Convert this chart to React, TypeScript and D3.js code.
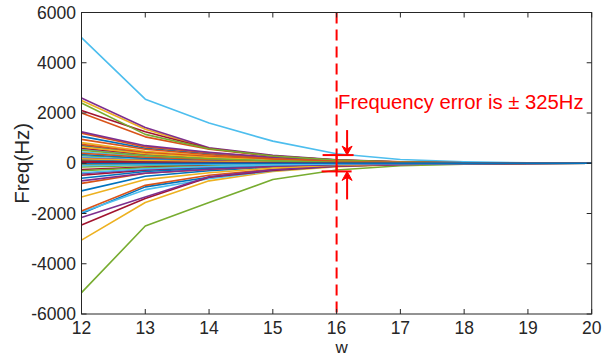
import React from "react";
import * as d3 from "d3";

const W = [12, 13, 14, 15, 16, 17, 18, 19, 20];
const X_TICKS = [12, 13, 14, 15, 16, 17, 18, 19, 20];
const Y_TICKS = [-6000, -4000, -2000, 0, 2000, 4000, 6000];
const COLOR_ORDER = ["#0072BD", "#D95319", "#EDB120", "#7E2F8E", "#77AC30", "#4DBEEE", "#A2142F"];
const ERROR_HZ = 325;
const MARK_W = 16;
const LABEL = "Frequency error is \u00B1 325Hz";

// Frequency estimates per line, at w = 12..20
const LINES: number[][] = [
  [1070, 600, 380, 200, 90, 40, 15, 5, 0],
  [2000, 1050, 560, 280, 120, 50, 20, 5, 0],
  [2500, 1350, 600, 300, 130, 55, 20, 5, 0],
  [2600, 1420, 620, 320, 140, 60, 20, 5, 0],
  [-5150, -2500, -1560, -650, -270, -100, -40, -10, 0],
  [5000, 2550, 1600, 880, 380, 150, 55, 15, 0],
  [2100, 1250, 590, 290, 125, 50, 20, 5, 0],

  [-2000, -940, -560, -280, -110, -45, -15, -5, 0],
  [1200, 650, 420, 220, 95, 40, 15, 5, 0],
  [-3060, -1560, -700, -330, -140, -55, -20, -5, 0],
  [1250, 700, 440, 230, 100, 40, 15, 5, 0],
  [2400, 1150, 580, 290, 125, 50, 18, 5, 0],
  [-1950, -1050, -620, -300, -120, -50, -18, -5, 0],
  [-2460, -1400, -560, -290, -120, -48, -17, -5, 0],

  [-1100, -515, -300, -150, -60, -25, -10, -3, 0],
  [-1900, -880, -480, -240, -100, -40, -15, -4, 0],
  [820, 480, 300, 160, 70, 30, 10, 3, 0],
  [-2160, -1340, -540, -260, -110, -45, -15, -5, 0],
  [300, 180, 110, 60, 25, 10, 4, 1, 0],
  [250, 150, 90, 50, 20, 8, 3, 1, 0],
  [-480, -280, -170, -90, -40, -15, -6, -2, 0],

  [700, 400, 250, 130, 55, 22, 8, 2, 0],
  [-800, -400, -250, -130, -55, -22, -8, -2, 0],
  [-1340, -650, -380, -190, -80, -30, -12, -3, 0],
  [-420, -250, -150, -80, -35, -14, -5, -1, 0],
  [100, 60, 40, 20, 8, 3, 1, 0, 0],
  [550, 320, 200, 110, 45, 18, 6, 2, 0],
  [600, 360, 220, 115, 50, 20, 7, 2, 0],

  [350, 200, 130, 70, 30, 12, 4, 1, 0],
  [750, 430, 270, 140, 60, 24, 9, 2, 0],
  [650, 380, 230, 120, 52, 21, 8, 2, 0],
  [50, 30, 20, 10, 4, 2, 1, 0, 0],
  [-150, -90, -55, -30, -12, -5, -2, 0, 0],
  [450, 270, 170, 90, 38, 15, 5, 1, 0],
  [-250, -150, -90, -50, -20, -8, -3, -1, 0],

  [150, 90, 55, 30, 12, 5, 2, 0, 0],
  [400, 240, 150, 80, 35, 14, 5, 1, 0],
  [-50, -30, -18, -10, -4, -2, -1, 0, 0],
  [200, 120, 75, 40, 17, 7, 2, 1, 0],
  [-300, -180, -110, -60, -25, -10, -4, -1, 0],
  [-100, -60, -36, -20, -8, -3, -1, 0, 0],
  [30, 20, 10, 5, 2, 1, 0, 0, 0],

  [-600, -330, -200, -100, -45, -18, -6, -2, 0],
  [950, 560, 340, 175, 75, 30, 11, 3, 0],
  [180, 110, 65, 35, 15, 6, 2, 1, 0],
  [-700, -400, -240, -120, -50, -20, -7, -2, 0],
  [520, 300, 180, 95, 40, 16, 6, 1, 0],
  [-380, -220, -130, -70, -30, -12, -4, -1, 0],
  [80, 50, 30, 15, 6, 2, 1, 0, 0],
  [-20, -10, -5, -2, -1, 0, 0, 0, 0],
];

const AX = "#262626";
const RED = "#FF0000";
const FONT = "Liberation Sans, Arial, Helvetica, sans-serif";

export default function App() {
  const left = 81.5, right = 591.7, top = 12.5, bottom = 314;
  const x = d3.scaleLinear().domain([12, 20]).range([left, right]);
  const y = d3.scaleLinear().domain([-6000, 6000]).range([bottom, top]);
  const line = d3.line<number>().x((_, i) => x(W[i])).y((d) => y(d));
  const tk = 5;

  const xm = x(MARK_W);
  const yTop = y(ERROR_HZ);
  const yBot = y(-ERROR_HZ);
  const ax = xm + 10.5;

  return (
    <svg width={607} height={356} style={{ position: "absolute", left: 0, top: 0, background: "#fff" }} fontFamily={FONT}>
      <rect x={0} y={0} width={607} height={356} fill="#fff" />
      <g>
        {LINES.map((s, i) => (
          <path key={i} d={line(s) || ""} fill="none" stroke={COLOR_ORDER[i % 7]} strokeWidth={1.6} strokeLinejoin="round" />
        ))}
      </g>
      {/* red dashed line */}
      <line x1={xm} x2={xm} y1={top} y2={bottom} stroke={RED} strokeWidth={2} strokeDasharray="11,6" />
      {/* error bars */}
      <line x1={xm - 14} x2={xm + 17} y1={yTop} y2={yTop} stroke={RED} strokeWidth={2} />
      <line x1={xm - 15} x2={xm + 15} y1={yBot} y2={yBot} stroke={RED} strokeWidth={2} />
      <line x1={xm} x2={xm} y1={yTop} y2={yBot} stroke={RED} strokeWidth={2} />
      {/* arrows */}
      <line x1={ax} x2={ax} y1={yTop - 25} y2={yTop - 3} stroke={RED} strokeWidth={2} />
      <path d={`M${ax},${yTop} L${ax - 5},${yTop - 9} L${ax},${yTop - 6} L${ax + 5},${yTop - 9} Z`} fill={RED} stroke={RED} strokeWidth={1} strokeLinejoin="miter" />
      <line x1={ax} x2={ax} y1={yBot + 28} y2={yBot + 3} stroke={RED} strokeWidth={2} />
      <path d={`M${ax},${yBot} L${ax - 5},${yBot + 9} L${ax},${yBot + 6} L${ax + 5},${yBot + 9} Z`} fill={RED} stroke={RED} strokeWidth={1} strokeLinejoin="miter" />
      <text x={338} y={109} fontSize={20.3} fill={RED}>{LABEL}</text>

      {/* box */}
      <rect x={left} y={top} width={right - left} height={bottom - top} fill="none" stroke={AX} strokeWidth={1} />
      {X_TICKS.map((t) => (
        <g key={"x" + t}>
          <line x1={x(t)} x2={x(t)} y1={bottom} y2={bottom - tk} stroke={AX} />
          <line x1={x(t)} x2={x(t)} y1={top} y2={top + tk} stroke={AX} />
          <text x={x(t)} y={334} textAnchor="middle" fontSize={17.5} fill={AX}>{t}</text>
        </g>
      ))}
      {Y_TICKS.map((t) => (
        <g key={"y" + t}>
          <line x1={left} x2={left + tk} y1={y(t)} y2={y(t)} stroke={AX} />
          <line x1={right} x2={right - tk} y1={y(t)} y2={y(t)} stroke={AX} />
          <text x={76} y={y(t) + 6} textAnchor="end" fontSize={17.5} fill={AX}>{t}</text>
        </g>
      ))}
      <text x={(left + right) / 2 + 5} y={353} textAnchor="middle" fontSize={17} fill={AX}>w</text>
      <text transform={`translate(29,${(top + bottom) / 2}) rotate(-90)`} textAnchor="middle" fontSize={20.5} fill={AX}>Freq(Hz)</text>
    </svg>
  );
}
